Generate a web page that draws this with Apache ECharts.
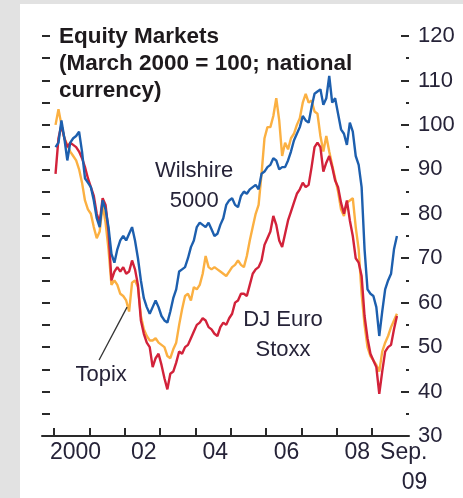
<!DOCTYPE html>
<html>
<head>
<meta charset="utf-8">
<script src="https://cdn.jsdelivr.net/npm/echarts@6/dist/echarts.min.js"></script>
<style>
  html, body { margin: 0; padding: 0; background: #e2e2e2; }
  #panel { position: absolute; left: 20px; top: 4px; width: 443px; height: 494px; background: #fff; }
  #chart { position: absolute; left: 0; top: 0; width: 463px; height: 498px; }
</style>
</head>
<body>
<div id="panel"></div>
<div id="chart"></div>
<script>
// monthly, Jan 2000 .. Sep 2009, March 2000 = 100
const wilshire = [
  95, 96, 101, 97, 92, 96, 97, 97.5, 98.5, 94,
  88, 87, 86, 83, 79, 77, 83, 81, 77, 71,
  69, 72, 74, 75, 74, 75.5, 77, 74, 70, 65,
  61, 59, 57.5, 59, 60.5, 59, 57, 56, 55.5, 58,
  61, 63, 67, 67.5, 68, 70, 72.5, 74, 77, 78,
  77.5, 77, 78, 76.5, 75, 75.5, 77.5, 79, 82, 83,
  83.5, 82, 81.5, 84, 85, 84.5, 85.5, 86, 86.5, 85.5,
  89, 89.5, 90.5, 91, 92.5, 92, 90, 90.5, 90.5, 92,
  94, 96.5, 98, 99.5, 102, 101, 100.5, 104, 107, 107.5,
  108, 104.5, 106, 111, 105, 106, 102.5, 99, 98, 95.5,
  100.5, 98.5, 93, 91, 86, 72, 63, 62, 61.5, 59,
  52.5, 58, 63, 65, 66.5, 72, 75
];
const euroStoxx = [
  89, 97, 100, 97, 95, 96, 95.5, 95, 94, 92.5,
  90.5, 88, 86, 84, 80, 78, 83.5, 82, 76, 65,
  67, 68, 67, 68, 66.5, 67, 69.5, 67.5, 64, 56,
  53, 51, 50, 45.5, 47.5, 48.5, 46, 43, 40.5, 44,
  44.5, 46.5, 49, 48.5, 50, 50.5, 52, 53.5, 55, 55.5,
  56.5, 56, 54.5, 54, 53, 52.5, 54.5, 55.5, 55, 56.5,
  57.5, 60, 60.5, 62, 62, 61.5, 64, 66.5, 67.5, 68,
  69.5, 73, 74.5, 76, 79.5, 77.5, 74, 72.5, 75.5, 78.5,
  80.5, 82.5, 84.5, 85.5, 87, 86, 86.5, 90.5, 95, 96,
  95, 89.5, 91.5, 93, 90.5, 87.5, 86, 82.5, 80, 83,
  78.5, 75, 70, 69, 66, 57, 52, 48.5, 47, 45.5,
  39.5, 44.5, 49, 50, 50.5, 54, 57
];
const topix = [
  100, 103.5, 100, 97, 95.5, 94, 93, 92, 90, 87,
  83, 81, 80, 77, 74.5, 76, 82, 78, 72, 64,
  65, 64, 62, 61.5, 60.5, 58, 64.5, 65, 63.5, 57,
  54, 52.5, 51.5, 51.5, 52, 51, 50.5, 50, 48, 47.5,
  49.5, 51, 55, 58.5, 61.5, 62, 60.5, 63.5, 63, 64,
  66.5, 70.5, 68, 67.5, 68, 67.5, 67, 66.5, 66, 67,
  68, 68.5, 69.5, 68.5, 68, 70.5, 74, 77, 80, 82,
  89, 97, 99.5, 99.5, 102, 106, 101, 93, 96, 94.5,
  97, 98, 100, 101.5, 105, 107, 105, 105.5, 103, 102.5,
  97.5, 94, 97.5, 94, 91, 88, 85, 81, 79.5, 82.5,
  83, 83.5, 77, 72, 62, 55, 50, 48, 47, 46,
  44.5, 49, 51, 52.5, 54.5, 56, 57.5
];
// x axis in months since Jan 2000
const yearTicks = [0, 12, 24, 36, 48, 60, 72, 84, 96, 108];
const xLabelAt = [7.3, 30.5, 54.8, 79, 103, 118.8];
const xLabelText = ["2000", "02", "04", "06", "08", "{r|Sep.}\n{r|09}"];

const font = "'Liberation Sans', Arial, sans-serif";
const ink = "#262338";

const toPoints = (arr) => arr.map((v, i) => [i + 0.5, v]);

const chart = echarts.init(document.getElementById("chart"));
chart.setOption({
  animation: false,
  textStyle: { fontFamily: font },
  title: {
    text: "Equity Markets\n(March 2000 = 100; national\ncurrency)",
    left: 59,
    top: 23,
    padding: 0,
    textStyle: { fontFamily: font, fontSize: 22.5, fontWeight: "bold", lineHeight: 27, color: "#1e1a1d" },
  },
  grid: { left: 42, right: 54, top: 36, bottom: 62 },
  xAxis: {
    type: "value",
    min: -4.1,
    max: 120.6,
    splitLine: { show: false },
    axisLine: { show: true, onZero: false, lineStyle: { color: "#2a2a2a", width: 2 } },
    axisTick: { show: true, inside: true, length: 8, customValues: yearTicks, lineStyle: { color: "#2a2a2a", width: 2 } },
    axisLabel: {
      customValues: xLabelAt,
      formatter: (val) => xLabelText[xLabelAt.indexOf(val)] || "",
      margin: 2,
      fontSize: 23,
      lineHeight: 30,
      color: ink,
      rich: { r: { align: "right", fontSize: 23, lineHeight: 30, color: ink, fontFamily: font } },
    },
  },
  yAxis: [
    {
      type: "value",
      position: "left",
      min: 30,
      max: 120,
      interval: 5,
      splitLine: { show: false },
      axisLine: { show: false, onZero: false },
      axisTick: { show: true, inside: true, length: 8, lineStyle: { color: "#2a2a2a", width: 2 } },
      axisLabel: { show: false },
    },
    {
      type: "value",
      position: "right",
      min: 30,
      max: 120,
      interval: 10,
      splitLine: { show: false },
      axisLine: { show: false, onZero: false },
      axisTick: { show: true, inside: true, length: 8, lineStyle: { color: "#2a2a2a", width: 2 } },
      minorTick: { show: true, splitNumber: 2, length: 3, lineStyle: { color: "#2a2a2a", width: 2 } },
      axisLabel: { margin: 9, fontSize: 22, color: ink },
    },
  ],
  series: [
    {
      name: "Topix",
      type: "line",
      data: toPoints(topix),
      showSymbol: false,
      lineStyle: { color: "#fbb042", width: 2.4 },
      itemStyle: { color: "#fbb042" },
      markLine: {
        silent: true,
        symbol: ["none", "none"],
        label: { show: false },
        lineStyle: { color: "#333", width: 1.3, type: "solid" },
        data: [[{ coord: [15.3, 47.1] }, { coord: [24.8, 59] }]],
      },
      markPoint: {
        silent: true,
        symbolSize: 0,
        label: { show: true, position: "inside", formatter: "{b}", fontSize: 22, color: ink },
        data: [{ name: "Topix", coord: [16, 43.7] }],
      },
    },
    {
      name: "DJ Euro Stoxx",
      type: "line",
      data: toPoints(euroStoxx),
      showSymbol: false,
      lineStyle: { color: "#d2223a", width: 2.4 },
      itemStyle: { color: "#d2223a" },
      markPoint: {
        silent: true,
        symbolSize: 0,
        label: { show: true, position: "inside", formatter: "{b}", fontSize: 22, lineHeight: 30, color: ink },
        data: [{ name: "DJ Euro\nStoxx", coord: [77.8, 52.8] }],
      },
    },
    {
      name: "Wilshire 5000",
      type: "line",
      data: toPoints(wilshire),
      showSymbol: false,
      lineStyle: { color: "#1d5fae", width: 2.4 },
      itemStyle: { color: "#1d5fae" },
      markPoint: {
        silent: true,
        symbolSize: 0,
        label: { show: true, position: "inside", formatter: "{b}", fontSize: 22, lineHeight: 30, color: ink },
        data: [{ name: "Wilshire\n5000", coord: [47.6, 86.3] }],
      },
    },
  ],
});
</script>
</body>
</html>
